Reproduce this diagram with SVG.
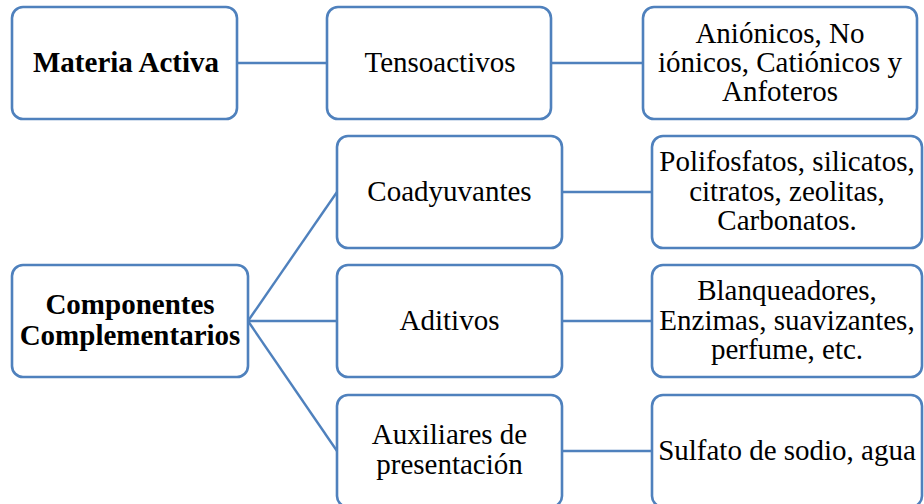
<svg xmlns="http://www.w3.org/2000/svg" width="924" height="504" viewBox="0 0 924 504">
<style>
.box{fill:#ffffff;stroke:#4F81BD;stroke-width:2.6}
.conn{stroke:#4F81BD;stroke-width:2.4;fill:none}
.t{font-family:'Liberation Serif','Times New Roman',Tinos,'DejaVu Serif',serif;font-size:29px;fill:#000000;text-anchor:middle}
.b{font-weight:bold}
</style>
<rect width="924" height="504" fill="#ffffff"/>
<g id="connectors">
<line class="conn" x1="237" y1="63" x2="327" y2="63"/>
<line class="conn" x1="551" y1="63" x2="643" y2="63"/>
<line class="conn" x1="248" y1="321" x2="337" y2="192"/>
<line class="conn" x1="248" y1="321" x2="337" y2="321"/>
<line class="conn" x1="248" y1="321" x2="337" y2="451"/>
<line class="conn" x1="562" y1="192" x2="652" y2="192"/>
<line class="conn" x1="562" y1="321" x2="652" y2="321"/>
<line class="conn" x1="562" y1="451" x2="652" y2="451"/>
</g>
<g id="materia-activa">
<rect class="box" x="12" y="7" width="225" height="112" rx="11"/>
<text class="t b" x="126" y="72">Materia Activa</text>
</g>
<g id="tensoactivos">
<rect class="box" x="327" y="7" width="224" height="112" rx="11"/>
<text class="t" x="440" y="72">Tensoactivos</text>
</g>
<g id="anionicos">
<rect class="box" x="643" y="7" width="274" height="112" rx="11"/>
<text class="t" x="780" y="43">Aniónicos, No</text>
<text class="t" x="780" y="72">iónicos, Catiónicos y</text>
<text class="t" x="780" y="101">Anfoteros</text>
</g>
<g id="componentes">
<rect class="box" x="12" y="265" width="236" height="112" rx="11"/>
<text class="t b" x="130" y="314">Componentes</text>
<text class="t b" x="130" y="345">Complementarios</text>
</g>
<g id="coadyuvantes">
<rect class="box" x="337" y="136" width="225" height="112" rx="11"/>
<text class="t" x="449.5" y="201">Coadyuvantes</text>
</g>
<g id="polifosfatos">
<rect class="box" x="652" y="136" width="270" height="112" rx="11"/>
<text class="t" x="787" y="171">Polifosfatos, silicatos,</text>
<text class="t" x="787" y="201">citratos, zeolitas,</text>
<text class="t" x="787" y="230">Carbonatos.</text>
</g>
<g id="aditivos">
<rect class="box" x="337" y="265" width="225" height="112" rx="11"/>
<text class="t" x="449.5" y="330">Aditivos</text>
</g>
<g id="blanqueadores">
<rect class="box" x="652" y="265" width="270" height="112" rx="11"/>
<text class="t" x="787" y="300">Blanqueadores,</text>
<text class="t" x="787" y="330">Enzimas, suavizantes,</text>
<text class="t" x="787" y="359">perfume, etc.</text>
</g>
<g id="auxiliares">
<rect class="box" x="337" y="395" width="225" height="112" rx="11"/>
<text class="t" x="449.5" y="444">Auxiliares de</text>
<text class="t" x="449.5" y="474">presentación</text>
</g>
<g id="sulfato">
<rect class="box" x="652" y="395" width="270" height="112" rx="11"/>
<text class="t" x="787" y="460">Sulfato de sodio, agua</text>
</g>
</svg>
